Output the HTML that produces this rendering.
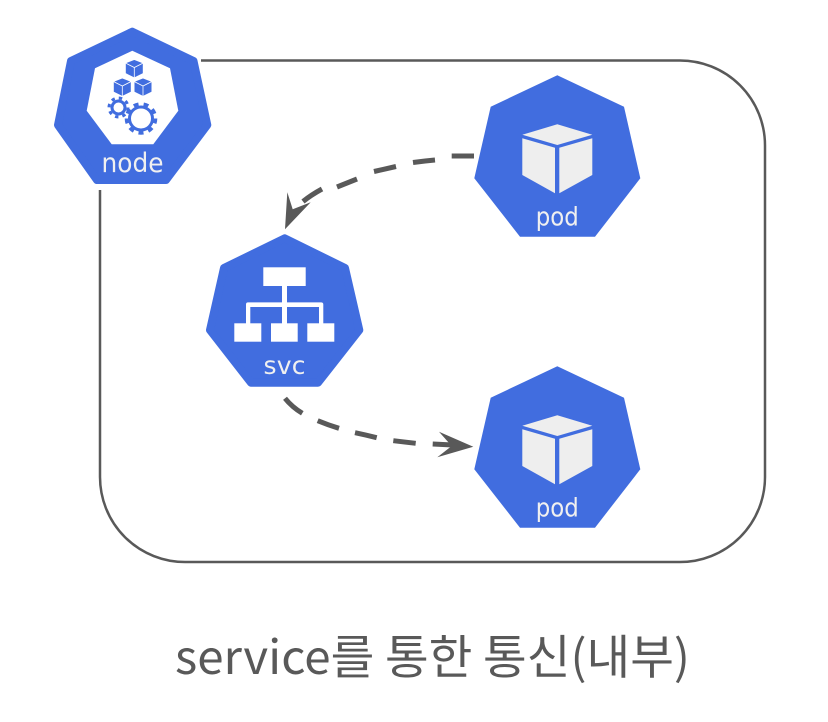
<!DOCTYPE html>
<html><head><meta charset="utf-8"><style>
html,body{margin:0;padding:0;background:#fff}
svg{display:block}
.l{font-family:"DejaVu Sans",sans-serif;fill:#f0f0f0;text-anchor:middle}
.t{font-family:"Noto Sans CJK KR","Liberation Sans",sans-serif;fill:#595959;font-size:47px}
.d{fill:none;stroke:#595959;stroke-width:5}
</style></head><body>
<svg width="828" height="722" viewBox="0 0 828 722" xmlns="http://www.w3.org/2000/svg">
<path d="M201 60.5H680A85 85 0 0 1 765 145.5V477A85 85 0 0 1 680 562H185A85 85 0 0 1 100 477V190" fill="none" stroke="#595959" stroke-width="2.5"/>

<!-- node -->
<polygon points="132.3,31.7 193.5,61 207.3,125 166,180 97,180 58,125 71,61" fill="#416ddf" stroke="#416ddf" stroke-width="8" stroke-linejoin="round"/>
<polygon points="132.3,50.7 170,68.3 178.3,110.7 153.3,144.3 111.7,144.3 86.7,110.7 95,68.3" fill="#fff"/>
<g fill="#416ddf" stroke="#fff" stroke-width="0.8">
<g><polygon points="134.3,59.5 143.2,63 143.2,73.5 134.3,77.8 125.4,73.5 125.4,63"/><path d="M125.4 63L134.3 67.5L143.2 63M134.3 67.5V77.8" fill="none"/></g>
<g transform="translate(-12,18.5)"><polygon points="134.3,59.5 143.2,63 143.2,73.5 134.3,77.8 125.4,73.5 125.4,63"/><path d="M125.4 63L134.3 67.5L143.2 63M134.3 67.5V77.8" fill="none"/></g>
<g transform="translate(8.7,18.5)"><polygon points="134.3,59.5 143.2,63 143.2,73.5 134.3,77.8 125.4,73.5 125.4,63"/><path d="M125.4 63L134.3 67.5L143.2 63M134.3 67.5V77.8" fill="none"/></g>
</g>
<circle cx="118.5" cy="107.5" r="9.5" fill="none" stroke="#416ddf" stroke-width="3" stroke-dasharray="3.4 4.06"/>
<circle cx="118.5" cy="107.5" r="6.5" fill="#fff" stroke="#416ddf" stroke-width="3"/>
<circle cx="141" cy="118.5" r="14.5" fill="none" stroke="#416ddf" stroke-width="3.6" stroke-dasharray="5 5.12"/>
<circle cx="141" cy="118.5" r="11.5" fill="#fff" stroke="#416ddf" stroke-width="3"/>
<text class="l" x="132.5" y="172" font-size="27" textLength="62" lengthAdjust="spacingAndGlyphs">node</text>

<!-- svc -->
<polygon points="284.7,238.3 345,268 359.3,330 318,382.7 251,382.7 210,330 224,268" fill="#416ddf" stroke="#416ddf" stroke-width="8" stroke-linejoin="round"/>
<g fill="#fff">
<rect x="263.3" y="267.3" width="42.4" height="18.7"/>
<rect x="282" y="286" width="5" height="38"/>
<path d="M246 323.5V304.5Q246 302.4 248 302.4H321Q323.3 302.4 323.3 304.5V323.5H319V307H250.3V323.5Z"/>
<rect x="234.3" y="323.3" width="27" height="18.4"/>
<rect x="271" y="323.3" width="26.7" height="18.4"/>
<rect x="307.3" y="323.3" width="27" height="18.4"/>
</g>
<text class="l" x="284.5" y="374" font-size="25" textLength="42" lengthAdjust="spacing">svc</text>

<!-- pod 1 -->
<g>
<polygon points="557.3,75.3 624,106.7 640.3,178.3 595,236.7 520,236.7 474.3,178.3 490.7,106.7" fill="#416ddf"/>
<g fill="#eee">
<polygon points="557.3,124.3 592.3,134.7 557.3,145 522.3,134.7"/>
<polygon points="522.3,138.3 555,147.7 555,193.3 522.3,175"/>
<polygon points="559.3,147.7 592.3,138.3 592.3,175 559.3,193.3"/>
</g>
<text class="l" x="557.3" y="225.7" font-size="26" textLength="43" lengthAdjust="spacingAndGlyphs">pod</text>
</g>
<!-- pod 2 -->
<g transform="translate(0,291)">
<polygon points="557.3,75.3 624,106.7 640.3,178.3 595,236.7 520,236.7 474.3,178.3 490.7,106.7" fill="#416ddf"/>
<g fill="#eee">
<polygon points="557.3,124.3 592.3,134.7 557.3,145 522.3,134.7"/>
<polygon points="522.3,138.3 555,147.7 555,193.3 522.3,175"/>
<polygon points="559.3,147.7 592.3,138.3 592.3,175 559.3,193.3"/>
</g>
<text class="l" x="557.3" y="225.7" font-size="26" textLength="43" lengthAdjust="spacingAndGlyphs">pod</text>
</g>

<!-- upper arrow -->
<path class="d" d="M474 156H451.7M435 160Q424 161 413 162.5M396 166.5Q385 169 374 171.5M357 179Q347 183 337 187M322 189Q311 195 303 201.5"/>
<polygon points="285,229.3 287.3,192.3 292.7,209.3 310.7,202.3" fill="#595959"/>
<!-- lower arrow -->
<path class="d" d="M285 398.3Q292 407 302.3 413.3M317.7 420.7Q328 425 339 428.3M355 432.7Q366 435 376.7 437.7M393.3 440.7Q404 442 415.7 443.3M432.7 444L453 445"/>
<polygon points="473.3,446.7 439,431.7 451.7,446 437.3,457.3" fill="#595959"/>

<text class="t" x="175" y="674" textLength="515" lengthAdjust="spacingAndGlyphs">service를 통한 통신(내부)</text>
</svg>
</body></html>
